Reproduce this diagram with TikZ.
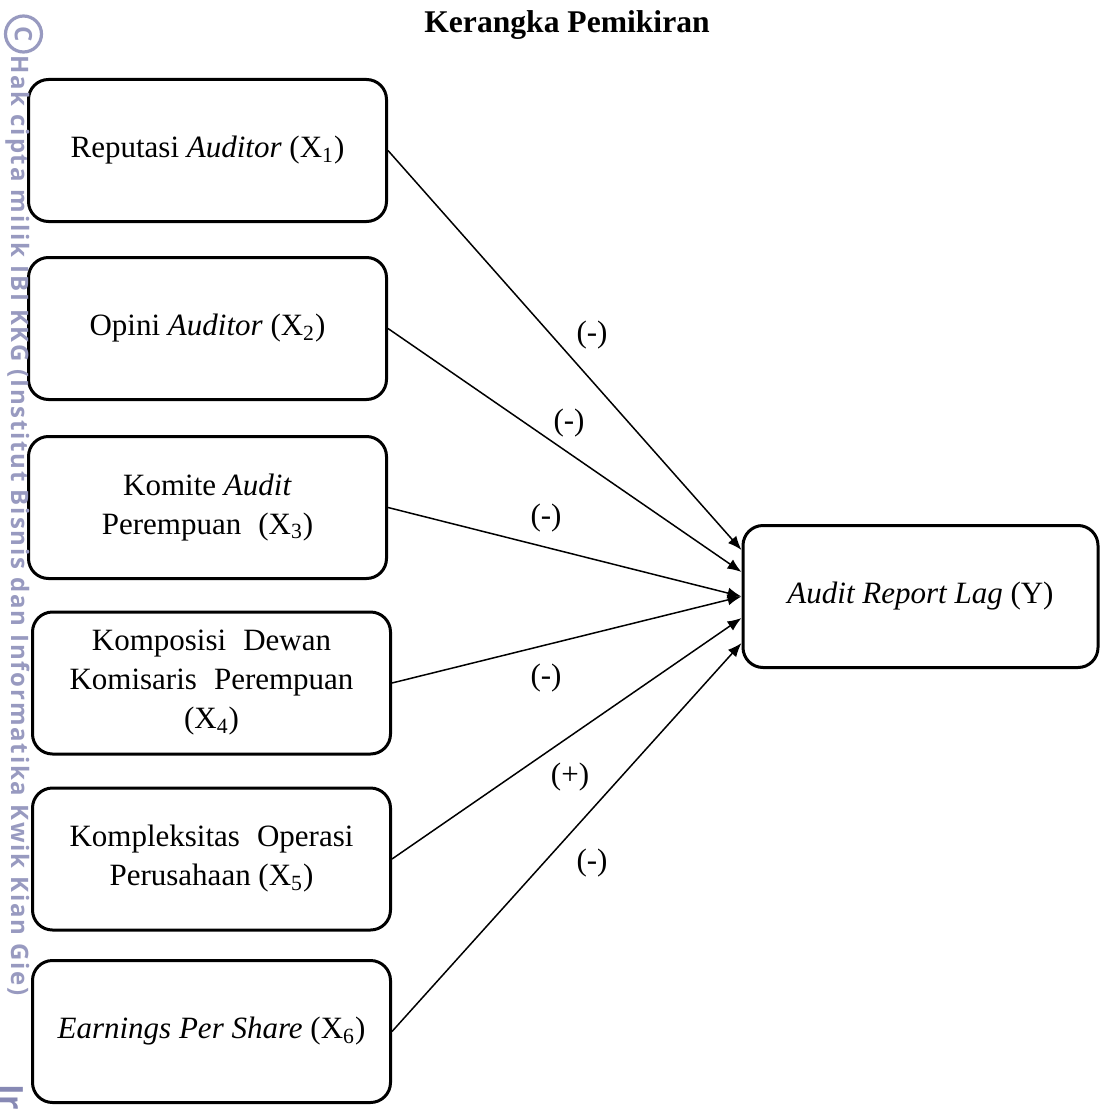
\documentclass[tikz,border=0pt]{standalone}
\usepackage{fontspec}
\setmainfont{Liberation Serif}
\newfontfamily\wmfont[LetterSpace=7.5]{Open Sans}
\newfontfamily\wmfontplain{Open Sans}
\usetikzlibrary{arrows.meta}
\definecolor{wmcol}{RGB}{152,154,192}
\definecolor{wmdark}{RGB}{135,137,180}
\begin{document}
\begin{tikzpicture}[x=0.5pt,y=-0.5pt,
  varbox/.style={draw, line width=1.5pt, rounded corners=10pt, minimum width=179pt,
    minimum height=71pt, align=center, inner sep=0pt,
    font=\fontsize{15.5}{19.5}\selectfont},
  link/.style={line width=0.75pt, -{Latex[length=7pt,width=5.5pt]}},
  sign/.style={font=\fontsize{15.5}{19}\selectfont, inner sep=0pt},
  wm/.style={text=wmcol, font=\wmfont\bfseries\fontsize{12}{12}\selectfont,
    rotate=-90, inner sep=0pt}]
\useasboundingbox (0,0) rectangle (1099,1113);
\fill[white] (0,0) rectangle (1099,1113);

% title
\node[font=\bfseries\fontsize{15.8}{19}\selectfont, anchor=base, inner sep=0pt]
  (title) at (567,33) {Kerangka Pemikiran};

% independent variables
\node[varbox] (x1) at (207.5,150.5) {Reputasi \textit{Auditor} (X\textsubscript{1})};
\node[varbox] (x2) at (207.5,328.5) {Opini \textit{Auditor} (X\textsubscript{2})};
\node[varbox] (x3) at (207.5,507.5) {Komite \textit{Audit}\\Perempuan\hspace{0.3em} (X\textsubscript{3})};
\node[varbox] (x4) at (211.5,683) {Komposisi\hspace{0.3em} Dewan\\Komisaris\hspace{0.3em} Perempuan\\(X\textsubscript{4})};
\node[varbox] (x5) at (211.5,859) {Kompleksitas\hspace{0.3em} Operasi\\Perusahaan (X\textsubscript{5})};
\node[varbox] (x6) at (211.5,1031.5) {\textit{Earnings Per Share} (X\textsubscript{6})};

% dependent variable
\node[varbox, minimum width=177.5pt] (Y) at (920.5,596.5) {\textit{Audit Report Lag} (Y)};

% connectors
\draw[link] (x1.east) -- ([yshift=23.25pt]Y.west);
\draw[link] (x2.east) -- ([yshift=12.25pt]Y.west);
\draw[link] (x3.east) -- (Y.west);
\draw[link] (x4.east) -- (Y.west);
\draw[link] (x5.east) -- ([yshift=-10.75pt]Y.west);
\draw[link] (x6.east) -- ([yshift=-23.25pt]Y.west);

% signs
\node[sign] (s1) at (592,335) {(-)};
\node[sign] (s2) at (569,423) {(-)};
\node[sign] (s3) at (546,518) {(-)};
\node[sign] (s4) at (546,678) {(-)};
\node[sign] (s5) at (570,777) {(+)};
\node[sign] (s6) at (592,863) {(-)};

% watermark
\draw[wmcol, line width=1.6pt] (23.5,34) circle[radius=9pt];
\node[wm, font=\wmfontplain\bfseries\fontsize{12}{12}\selectfont] (wmc) at (23.5,34) {C};
\node[wm, anchor=base west] (wmt) at (11,55)
  {Hak cipta milik IBI KKG (Institut Bisnis dan Informatika Kwik Kian Gie)};
\node[wm, text=wmdark, anchor=base west, font=\wmfontplain\bfseries\fontsize{16}{16}\selectfont]
  (wmi) at (1,1084) {Ir};
\end{tikzpicture}
\end{document}
